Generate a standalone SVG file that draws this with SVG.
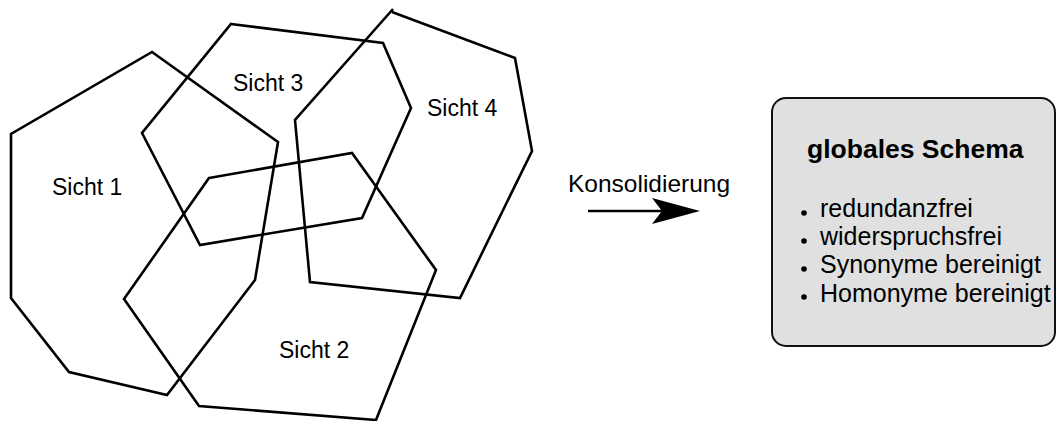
<svg xmlns="http://www.w3.org/2000/svg" width="1057" height="421" viewBox="0 0 1057 421">
<style>
.view{fill:none;stroke:#000;stroke-width:2.6;stroke-linejoin:miter}
.lbl{font-family:"Liberation Sans",Arial,sans-serif;font-size:23px;fill:#000}
.item{font-family:"Liberation Sans",Arial,sans-serif;font-size:25px;fill:#000}
.title{font-family:"Liberation Sans",Arial,sans-serif;font-size:26.5px;font-weight:bold;fill:#000}
.dot{fill:#000}
</style>
<rect width="1057" height="421" fill="#fff"/>
<g id="sicht1">
<polygon class="view" points="152,52 278,142 255,280 167,395 69,372 11,298 11,134"/>
<text class="lbl" x="52" y="195">Sicht 1</text>
</g>
<g id="sicht3">
<polygon class="view" points="231,24 383,43 411,108 362,218 200,245 142,133"/>
<text class="lbl" x="233" y="91">Sicht 3</text>
</g>
<g id="sicht4">
<path class="view" d="M392,12 L515,58 L532,151 L460,298 L310,282 L295,120 L393,9"/>
<text class="lbl" x="427" y="116">Sicht 4</text>
</g>
<g id="sicht2">
<polygon class="view" points="209,178 352,153 436,270 376,420 199,406 124,299"/>
<text class="lbl" x="279" y="358">Sicht 2</text>
</g>
<g id="connectors">
<line x1="588" y1="211" x2="664" y2="211" stroke="#000" stroke-width="2.5"/>
<polygon points="700,211 652,198 662,211 652,224" fill="#000"/>
<text class="lbl" x="568" y="192" style="font-size:24.5px">Konsolidierung</text>
</g>
<g id="globalesSchema">
<rect x="772" y="98" width="283" height="248" rx="14" ry="14" fill="#e0e0e0" stroke="#111" stroke-width="2"/>
<text class="title" x="807" y="158">globales Schema</text>
<circle class="dot" cx="804" cy="213" r="2.8"/>
<circle class="dot" cx="804" cy="241" r="2.8"/>
<circle class="dot" cx="804" cy="269" r="2.8"/>
<circle class="dot" cx="804" cy="297" r="2.8"/>
<text class="item" x="820" y="217">redundanzfrei</text>
<text class="item" x="820" y="245">widerspruchsfrei</text>
<text class="item" x="820" y="273">Synonyme bereinigt</text>
<text class="item" x="820" y="302">Homonyme bereinigt</text>
</g>
</svg>
